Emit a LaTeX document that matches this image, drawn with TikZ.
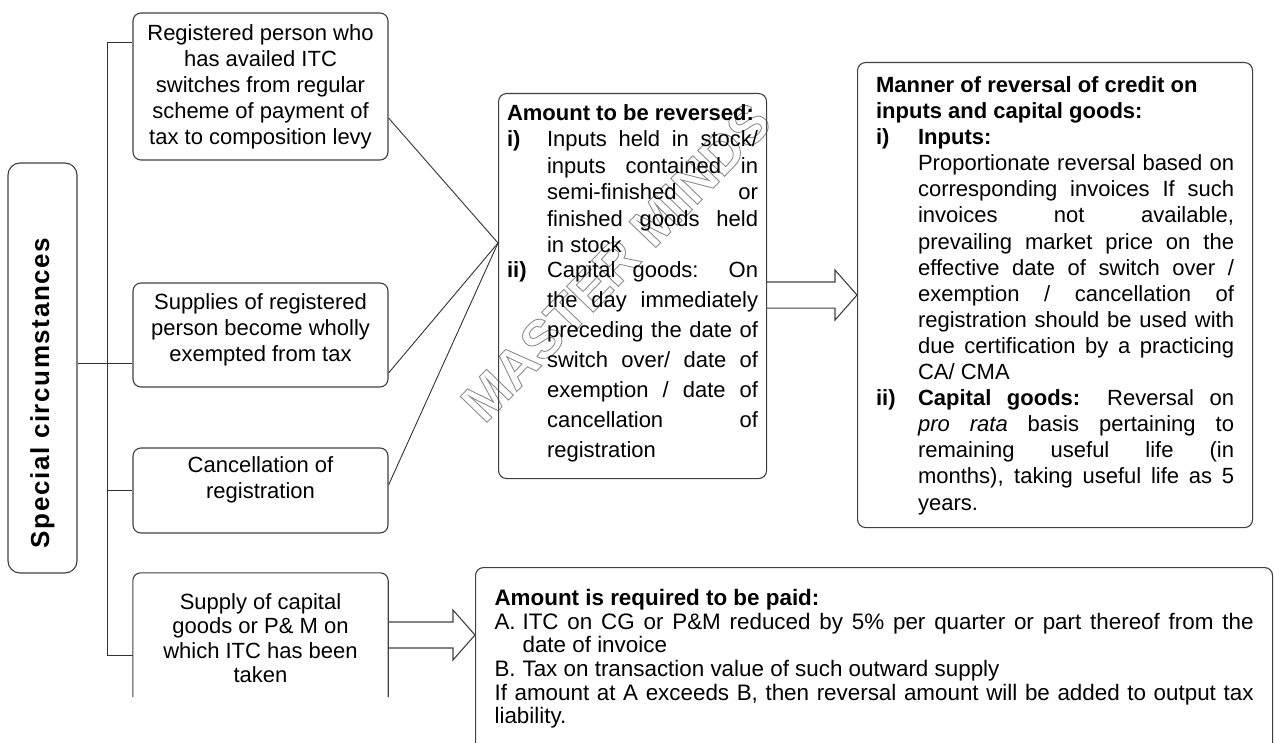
\documentclass[tikz,border=0pt]{standalone}
\usepackage{graphicx}
\usepackage{fontspec}
\setmainfont{Liberation Sans}
\usetikzlibrary{calc}
\newcommand\cbox[3]{\parbox[c][#1][c]{255pt}{\centering #3\par\vspace*{#2}}}
\newcommand\blockarrow[2]{\draw[arrowline] ($(#1)+(0,-13)$) -- ($(#2)+(-22,-13)$) -- ($(#2)+(-22,-25)$) -- (#2) -- ($(#2)+(-22,25)$) -- ($(#2)+(-22,13)$) -- ($(#1)+(0,13)$);}
\begin{document}
\begin{tikzpicture}[x=1pt,y=-1pt,
  box/.style={draw=black!75, line width=1.1pt, rounded corners=8pt, inner sep=0pt},
  conn/.style={draw=black!80, line width=0.9pt},
  arrowline/.style={draw=black!75, line width=1.1pt, line join=miter},
  txt/.style={font=\fontsize{22}{26}\selectfont},
  wmfont/.style={font=\fontsize{54}{54}\selectfont\bfseries, rotate=46, inner sep=0pt, text=black!30}
]
\useasboundingbox (0,0) rectangle (1274,743);

% watermark (outlined text)
\coordinate (wm) at (616,262);
\node[wmfont] (wmk) at (wm) {\special{pdf:literal direct 1 Tr 0.9 w 0.55 G}MASTER MINDS\special{pdf:literal direct 0 Tr}};

% left box
\node[box, rounded corners=12pt, minimum width=69pt, minimum height=410pt] (sc) at (42.5,368)
  {\rotatebox{90}{\fontsize{26}{26}\selectfont\bfseries\addfontfeature{LetterSpace=6}Special circumstances\hspace*{50pt}}};

% situation boxes
\node[box, txt] (b1) at (260.5,86.5) {\cbox{147pt}{0pt}{Registered person who\\has availed ITC\\switches from regular\\scheme of payment of\\tax to composition levy}};
\node[box, txt] (b2) at (260.5,335) {\cbox{104pt}{10pt}{Supplies of registered\\person become wholly\\exempted from tax}};
\node[box, txt] (b3) at (260.5,490.5) {\cbox{85pt}{21pt}{Cancellation of\\registration}};
\node[txt, inner sep=0pt] (b4) at (260.5,635) {\cbox{124pt}{-6pt}{\baselineskip=24.5pt Supply of capital\\goods or P\& M on\\which ITC has been\\taken}};
\draw[box] (b4.south west) -- (b4.north west) -- (b4.north east) -- (b4.south east);

% tree connectors
\coordinate (t1) at (107,42);
\coordinate (t4) at (107,655);
\coordinate (j) at (107,363);
\draw[conn] (t1) -- (t4);
\draw[conn] (t1) -- (t1 -| b1.west);
\draw[conn] (sc.east |- j) -- (j -| b2.west);
\draw[conn] (b3.west -| t1) -- (b3.west);
\draw[conn] (t4) -- (t4 -| b4.west);

% middle box
\node[box, txt, anchor=north west, inner xsep=8.5pt, inner ysep=11pt] (mb) at (498,93)
 {\parbox[c][363pt][t]{251pt}{\hyphenpenalty=10000 \exhyphenpenalty=10000
  \fontsize{22}{26.4}\selectfont
  \textbf{Amount to be reversed:}\par
  \hangindent=40pt \hangafter=1 \noindent\makebox[40pt][l]{\textbf{i)}}Inputs held in stock/\linebreak inputs contained in\linebreak semi-finished or\linebreak finished goods held\linebreak in stock\par
  \vspace{-5pt}\fontsize{22}{30}\selectfont
  \hangindent=40pt \hangafter=1 \noindent\makebox[40pt][l]{\textbf{ii)}}Capital goods: On\linebreak the day immediately\linebreak preceding the date of\linebreak switch over/ date of\linebreak exemption / date of\linebreak cancellation of\linebreak registration\par}};

% right box
\node[box, txt, anchor=north west, inner xsep=18.5pt, inner ysep=14pt] (rb) at (857,62)
 {\parbox[c][437pt][t]{358pt}{\hyphenpenalty=10000 \exhyphenpenalty=10000
  \fontsize{22}{26.1}\selectfont
  \textbf{Manner of reversal of credit on\\inputs and capital goods:}\par
  \hangindent=42pt \hangafter=1 \noindent\makebox[42pt][l]{\textbf{i)}}\textbf{Inputs:}\par
  \hangindent=42pt \hangafter=0 \noindent Proportionate reversal based on\linebreak corresponding invoices If such\linebreak invoices not available,\linebreak prevailing market price on the\linebreak effective date of switch over /\linebreak exemption / cancellation of\linebreak registration should be used with\linebreak due certification by a practicing\linebreak CA/ CMA\par
  \hangindent=42pt \hangafter=1 \noindent\makebox[42pt][l]{\textbf{ii)}}\textbf{Capital goods:} Reversal on\linebreak \textit{pro rata} basis pertaining to\linebreak remaining useful life (in\linebreak months), taking useful life as 5\linebreak years.\par}};

% bottom box
\node[box, txt, anchor=north west, inner xsep=19pt, inner ysep=22pt] (bb) at (475,567)
 {\parbox[c][200pt][t]{759pt}{\hyphenpenalty=10000 \exhyphenpenalty=10000
  \fontsize{22.4}{23.6}\selectfont
  \textbf{Amount is required to be paid:}\par
  \hangindent=28pt \hangafter=1 \noindent\makebox[28pt][l]{A.}ITC on CG or P\&M reduced by 5\% per quarter or part thereof from the\linebreak date of invoice\par
  \hangindent=28pt \hangafter=1 \noindent\makebox[28pt][l]{B.}Tax on transaction value of such outward supply\par
  \noindent If amount at A exceeds B, then reversal amount will be added to output tax liability.\par}};

% converging lines
\coordinate (P) at ($(mb.north west)+(0,150)$);
\draw[conn] ([yshift=-31.5pt]b1.east) -- (P);
\draw[conn] ([yshift=-38pt]b2.east) -- (P);
\draw[conn] ([yshift=5.5pt]b3.east) -- (P);

% block arrows
\coordinate (a1s) at (mb.east |- rb.west);
\blockarrow{a1s}{rb.west}
\coordinate (a2t) at (bb.west |- b4.east);
\blockarrow{b4.east}{a2t}
\end{tikzpicture}
\end{document}
